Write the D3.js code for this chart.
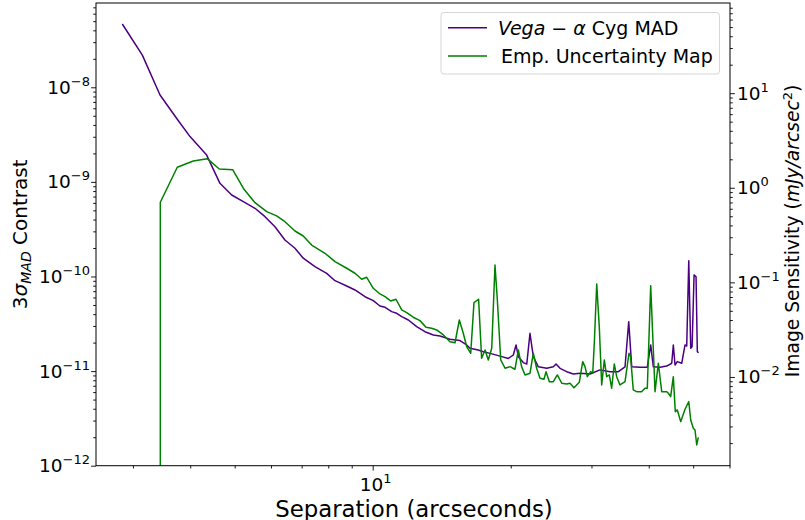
<!DOCTYPE html>
<html><head><meta charset="utf-8">
<script src="https://cdn.jsdelivr.net/npm/d3@7"></script>
<style>html,body{margin:0;padding:0;background:#fff}svg{display:block;font-family:"DejaVu Sans",sans-serif}</style>
</head><body><svg id="c" width="805" height="520"></svg>
<script>
// Vega - alpha Cyg MAD contrast (left axis)
const sepP = [2.844,3.145,3.437,3.748,3.996,4.344,4.644,4.926,5.222,5.538,5.823,6.122,6.436,6.768,7.056,7.482,7.938,8.276,8.776,9.150,9.620,10.03,10.37,10.64,11.00,11.28,11.57,11.96,12.47,13.00,13.56,14.02,14.74,15.50,16.03,16.30,16.99,17.43,18.03,18.96,19.76,20.26,20.54,20.78,21.30,21.68,22.03,22.40,22.97,23.96,24.77,25.11,25.62,26.49,27.38,28.32,29.78,31.31,32.93,34.34,35.51,36.17,36.72,38.28,39.71,40.39,40.93,42.33,43.78,44.89,45.25,45.64,46.17,47.20,47.99,48.40,48.90,49.38,49.72,50.22,50.72,51.05,51.40];
const contrast = [4.67e-8,2.19e-8,8.29e-9,4.59e-9,3.01e-9,1.92e-9,9.66e-10,7.27e-10,6.18e-10,5.26e-10,4.29e-10,3.36e-10,2.43e-10,1.99e-10,1.56e-10,1.27e-10,1.08e-10,9.03e-11,7.94e-11,7.20e-11,6.11e-11,5.55e-11,4.88e-11,4.72e-11,4.25e-11,4.08e-11,3.76e-11,3.47e-11,2.95e-11,2.61e-11,2.41e-11,2.35e-11,2.17e-11,2.10e-11,1.89e-11,1.74e-11,1.67e-11,1.60e-11,1.54e-11,1.44e-11,1.36e-11,1.48e-11,1.89e-11,1.42e-11,1.23e-11,1.19e-11,2.51e-11,1.42e-11,1.11e-11,1.07e-11,1.11e-11,1.19e-11,1.07e-11,9.86e-12,9.31e-12,9.48e-12,9.31e-12,1.03e-11,9.86e-12,9.86e-12,1.11e-11,3.33e-11,1.11e-11,1.10e-11,1.10e-11,1.89e-11,1.11e-11,1.10e-11,1.13e-11,1.21e-11,1.89e-11,1.16e-11,1.26e-11,1.21e-11,1.89e-11,1.84e-11,1.47e-10,1.74e-11,1.81e-11,1.04e-10,9.95e-11,1.60e-11,1.57e-11];
// Empirical uncertainty map sensitivity, mJy/arcsec^2 (right axis)
const sepG = [3.442,3.442,3.748,4.062,4.357,4.628,4.950,5.240,5.538,5.872,6.174,6.436,6.768,7.056,7.360,7.870,8.276,8.776,9.150,9.462,9.703,10.03,10.37,10.64,10.94,11.24,11.57,11.86,12.26,12.68,13.07,13.45,13.79,14.26,14.74,15.12,15.45,15.76,16.03,16.36,16.63,17.02,17.28,17.58,17.87,18.18,18.48,18.70,19.02,19.44,19.93,20.43,20.78,21.12,21.49,22.03,22.40,22.78,23.17,23.63,23.88,24.28,24.77,25.27,25.84,26.49,26.93,27.48,28.22,28.71,29.04,29.38,29.88,30.19,30.43,30.80,31.20,31.58,32.00,32.38,32.81,33.20,33.64,34.05,34.62,35.51,36.22,36.51,37.01,37.63,38.59,39.24,39.71,40.39,40.93,41.28,41.97,42.69,43.78,44.13,44.65,45.25,45.70,46.17,46.96,47.99,48.90,49.38,50.03,50.46,50.89,51.30];
const sensitivity = [1e-4,0.703,1.647,1.920,2.031,1.580,1.553,0.964,0.696,0.559,0.504,0.438,0.349,0.309,0.248,0.203,0.1655,0.141,0.1248,0.1079,0.1132,0.0866,0.0754,0.0706,0.0636,0.0663,0.0511,0.0478,0.0428,0.0394,0.0335,0.0327,0.0314,0.0278,0.0236,0.0230,0.0400,0.0290,0.0209,0.0178,0.0610,0.0663,0.01577,0.0193,0.01513,0.0201,0.1527,0.0652,0.01513,0.01236,0.01285,0.01206,0.0193,0.01285,0.0105,0.01094,0.0178,0.01236,0.00969,0.00946,0.01138,0.00892,0.00892,0.0105,0.00858,0.00843,0.00858,0.0077,0.00879,0.01451,0.01285,0.01007,0.01138,0.01094,0.0227,0.0962,0.0340,0.00823,0.01513,0.01007,0.0105,0.0076,0.01372,0.01007,0.00823,0.00892,0.0178,0.0164,0.00729,0.00699,0.00699,0.0076,0.0076,0.0923,0.0193,0.00699,0.01396,0.00699,0.00699,0.00673,0.00619,0.01007,0.0043,0.00448,0.00337,0.00456,0.00548,0.00351,0.00287,0.00275,0.00191,0.0023];

const xMajor = [10];
const leftMajor = [-12,-11,-10,-9,-8];
const rightMajor = [-2,-1,0,1];
const seriesNames = ["Vega − α Cyg MAD", "Emp. Uncertainty Map"];
const colors = ["#4b0082", "#008000"];

const L = 96, R = 730, T = 3, B = 465.7;
const svg = d3.select("#c");
svg.append("rect").attr("width",805).attr("height",520).attr("fill","#fff");

const x = d3.scaleLog().domain([2.492, 60.15]).range([L, R]);
const yL = d3.scaleLog().domain([1e-12, 7.78e-8]).range([B, T]);
const yR = d3.scaleLog().domain([1.153e-3, 89.8]).range([B, T]);

function minors(scale) {
  const [a, b] = scale.domain();
  const out = [];
  for (let e = Math.floor(Math.log10(a)); e <= Math.ceil(Math.log10(b)); e++)
    for (let k = 2; k <= 9; k++) { const v = k * Math.pow(10, e); if (v >= a * 0.999 && v <= b * 1.001) out.push(v); }
  return out;
}
function styleAxis(g) { g.select(".domain").remove(); g.selectAll("line").attr("stroke","#000").attr("stroke-width",0.9); g.selectAll("text").remove(); }

svg.append("g").attr("transform",`translate(0,${B})`).call(d3.axisBottom(x).tickValues(xMajor).tickSize(4.9).tickFormat("")).call(styleAxis);
svg.append("g").attr("transform",`translate(0,${B})`).call(d3.axisBottom(x).tickValues(minors(x)).tickSize(2.8).tickFormat("")).call(styleAxis);
svg.append("g").attr("transform",`translate(${L},0)`).call(d3.axisLeft(yL).tickValues(leftMajor.map(e=>Math.pow(10,e))).tickSize(4.9).tickFormat("")).call(styleAxis);
svg.append("g").attr("transform",`translate(${L},0)`).call(d3.axisLeft(yL).tickValues(minors(yL)).tickSize(2.8).tickFormat("")).call(styleAxis);
svg.append("g").attr("transform",`translate(${R},0)`).call(d3.axisRight(yR).tickValues(rightMajor.map(e=>Math.pow(10,e))).tickSize(4.9).tickFormat("")).call(styleAxis);
svg.append("g").attr("transform",`translate(${R},0)`).call(d3.axisRight(yR).tickValues(minors(yR)).tickSize(2.8).tickFormat("")).call(styleAxis);

function powText(g, px, py, exp, anchor) {
  const t = g.append("text").attr("x", px).attr("y", py).attr("text-anchor", anchor).attr("font-size", 18.5).attr("fill","#000");
  t.append("tspan").text("10");
  t.append("tspan").attr("dy", -8).attr("font-size", 13).text(exp < 0 ? "−" + (-exp) : String(exp));
  return t;
}
const labels = svg.append("g");
leftMajor.forEach(e => powText(labels, L - 6, yL(Math.pow(10,e)) + 6.5, e, "end"));
rightMajor.forEach(e => powText(labels, R + 7, yR(Math.pow(10,e)) + 6.5, e, "start"));
xMajor.forEach(v => powText(labels, x(v) + 3, B + 25, Math.round(Math.log10(v)), "middle"));

// axis titles
svg.append("text").attr("x", 414).attr("y", 516.5).attr("text-anchor","middle").attr("font-size", 22.8).text("Separation (arcseconds)");
const yl = svg.append("text").attr("transform", `translate(27,${(T+B)/2}) rotate(-90)`).attr("text-anchor","middle").attr("font-size", 20);
yl.append("tspan").text("3");
yl.append("tspan").attr("font-style","italic").text("σ");
yl.append("tspan").attr("font-style","italic").attr("font-size", 14).attr("dy", 4).text("MAD");
yl.append("tspan").attr("dy", -4).text(" Contrast");
const yr = svg.append("text").attr("transform", `translate(799,231) rotate(-90)`).attr("text-anchor","middle").attr("font-size", 18.7);
yr.append("tspan").text("Image Sensitivity (");
yr.append("tspan").attr("font-style","italic").text("mJy/arcsec");
yr.append("tspan").attr("font-size", 13).attr("dy", -7.5).text("2");
yr.append("tspan").attr("dy", 7.5).text(")");

// data lines
svg.append("clipPath").attr("id","clip").append("rect").attr("x",L).attr("y",T).attr("width",R-L).attr("height",B-T);
const nP = Math.min(sepP.length, contrast.length);
const nG = Math.min(sepG.length, sensitivity.length);
const purple = d3.range(nP).map(i => [sepP[i], contrast[i]]);
const green = d3.range(nG).map(i => [sepG[i], sensitivity[i]]);
const lineP = d3.line().x(d => x(d[0])).y(d => yL(d[1]));
const lineG = d3.line().x(d => x(d[0])).y(d => Math.min(yR(d[1]), B + 20));
const plot = svg.append("g").attr("clip-path","url(#clip)");
plot.append("path").datum(purple).attr("d", lineP).attr("fill","none").attr("stroke",colors[0]).attr("stroke-width",1.5).attr("stroke-linejoin","round");
plot.append("path").datum(green).attr("d", lineG).attr("fill","none").attr("stroke",colors[1]).attr("stroke-width",1.5).attr("stroke-linejoin","round");

// frame
svg.append("rect").attr("x",L).attr("y",T).attr("width",R-L).attr("height",B-T).attr("fill","none").attr("stroke","#000").attr("stroke-width",1);

// legend
const lg = svg.append("g");
lg.append("rect").attr("x",441).attr("y",12.5).attr("width",278.5).attr("height",61.5).attr("rx",3).attr("fill","#fff").attr("fill-opacity",0.8).attr("stroke","#d6d6d6").attr("stroke-width",1);
[27.7, 56].forEach((yy, i) => {
  lg.append("line").attr("x1",448).attr("x2",487).attr("y1",yy).attr("y2",yy).attr("stroke",colors[i]).attr("stroke-width",1.5);
});
const t1 = lg.append("text").attr("x",498).attr("y",34.5).attr("font-size",19);
t1.append("tspan").attr("font-style","italic").text("Vega");
t1.append("tspan").text(" − ");
t1.append("tspan").attr("font-style","italic").text("α");
t1.append("tspan").text(" Cyg MAD");
lg.append("text").attr("x",501).attr("y",62.8).attr("font-size",19).text(seriesNames[1]);
</script></body></html>
